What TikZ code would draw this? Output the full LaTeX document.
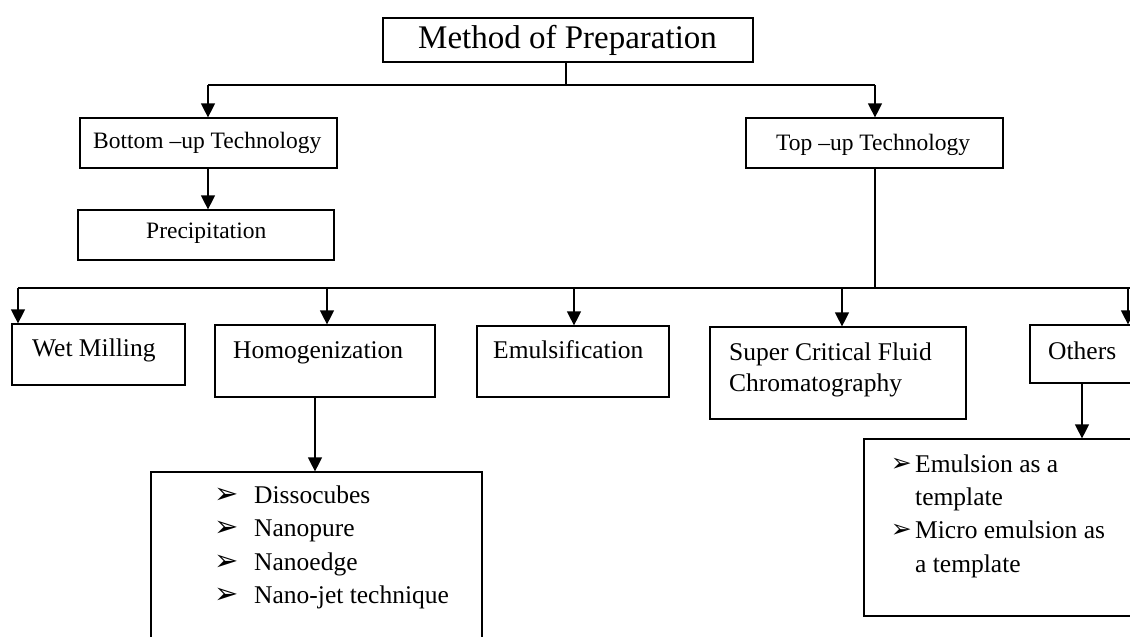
\documentclass[tikz,border=0pt]{standalone}
\usepackage{fontspec}
\setmainfont{Liberation Serif}
\newfontfamily\dingfont{DejaVu Sans}
\usetikzlibrary{arrows.meta}
\tikzset{
  box/.style={draw=black, line width=1.2pt, rectangle, inner sep=0pt},
  conn/.style={draw=black, line width=1.2pt},
  arr/.style={conn, -{Triangle[length=14pt,width=14pt]}},
  big/.style={anchor=base west, inner sep=0pt, font=\fontsize{33}{38}\selectfont},
  mid/.style={anchor=base west, inner sep=0pt, font=\fontsize{23.5}{28}\selectfont},
  txt/.style={anchor=base west, inner sep=0pt, font=\fontsize{25.5}{31}\selectfont},
  bul/.style={anchor=base west, inner sep=0pt, font=\dingfont\fontsize{29}{34}\selectfont},
  bulsmall/.style={anchor=base east, inner sep=0pt, font=\dingfont\fontsize{25}{30}\selectfont},
}
\begin{document}
\begin{tikzpicture}[x=1pt,y=-1pt]
\useasboundingbox (0,0) rectangle (1130,637);
\fill[white] (0,0) rectangle (1130,637);
\clip (0,0) rectangle (1130,637);

% boxes
\node[box, minimum width=370pt, minimum height=44pt] (method) at (568,40) {};
\node[box, minimum width=257pt, minimum height=50pt] (bottom) at (208.5,143) {};
\node[box, minimum width=257pt, minimum height=50pt] (top) at (874.5,143) {};
\node[box, minimum width=256pt, minimum height=50pt] (precip) at (206,235) {};
\node[box, minimum width=173pt, minimum height=61pt] (wet) at (98.5,354.5) {};
\node[box, minimum width=220pt, minimum height=72pt] (homog) at (325,361) {};
\node[box, minimum width=192pt, minimum height=71pt] (emuls) at (573,361.5) {};
\node[box, minimum width=256pt, minimum height=92pt] (scf) at (838,373) {};
\node[box, minimum width=130pt, minimum height=58pt] (others) at (1095,354) {};
\node[box, minimum width=331pt, minimum height=220pt] (diss) at (316.5,582) {};
\node[box, minimum width=300pt, minimum height=177pt] (emtemp) at (1014,527.5) {};

% texts
\node[big] (tmethod) at (418,48) {Method of Preparation};
\node[mid] (tbottom) at (93,148) {Bottom –up Technology};
\node[mid] (ttop) at (776,150) {Top –up Technology};
\node[mid] (tprecip) at (146,238) {Precipitation};
\node[txt] (twet) at (32,356) {Wet Milling};
\node[txt] (thomog) at (233,358) {Homogenization};
\node[txt] (temuls) at (493,358) {Emulsification};
\node[txt] (tscf1) at (729,360) {Super Critical Fluid};
\node[txt] (tscf2) at (729,391) {Chromatography};
\node[txt] (tothers) at (1048,359) {Others};

\node[bul] (b1) at (214,503) {➢};
\node[txt] (d1) at (254,503) {Dissocubes};
\node[bul] (b2) at (214,536) {➢};
\node[txt] (d2) at (254,536) {Nanopure};
\node[bul] (b3) at (214,570) {➢};
\node[txt] (d3) at (254,570) {Nanoedge};
\node[bul] (b4) at (214,603) {➢};
\node[txt] (d4) at (254,603) {Nano-jet technique};

\node[bulsmall] (e1b) at (912,471) {➢};
\node[txt] (e1) at (915,472) {Emulsion as a};
\node[txt] (e2) at (915,505) {template};
\node[bulsmall] (e3b) at (912,537) {➢};
\node[txt] (e3) at (915,538) {Micro emulsion as};
\node[txt] (e4) at (915,572) {a template};

% connectors
\coordinate (m1) at (566,85);
\coordinate (mL) at (208,85);
\coordinate (mR) at (875,85);
\draw[conn] (method.south -| m1) -- (m1);
\draw[conn] (mL) -- (mR);
\draw[arr] (mL) -- (mL |- bottom.north);
\draw[arr] (mR) -- (mR |- top.north);
\draw[arr] (bottom.south -| mL) -- (mL |- precip.north);

\coordinate (tb) at (875,288);
\coordinate (hL) at (18,288);
\coordinate (hR) at (1135,288);
\coordinate (j2) at (327,288);
\coordinate (j3) at (574,288);
\coordinate (j4) at (842,288);
\coordinate (j5) at (1128,288);
\draw[conn] (top.south -| tb) -- (tb);
\draw[conn] (hL) -- (hR);
\draw[arr] (hL) -- (hL |- wet.north);
\draw[arr] (j2) -- (j2 |- homog.north);
\draw[arr] (j3) -- (j3 |- emuls.north);
\draw[arr] (j4) -- (j4 |- scf.north);
\draw[arr] (j5) -- (j5 |- others.north);

\coordinate (hx) at (315,0);
\draw[arr] (homog.south -| hx) -- (hx |- diss.north);
\coordinate (ox) at (1082,0);
\draw[arr] (others.south -| ox) -- (ox |- emtemp.north);
\end{tikzpicture}
\end{document}
